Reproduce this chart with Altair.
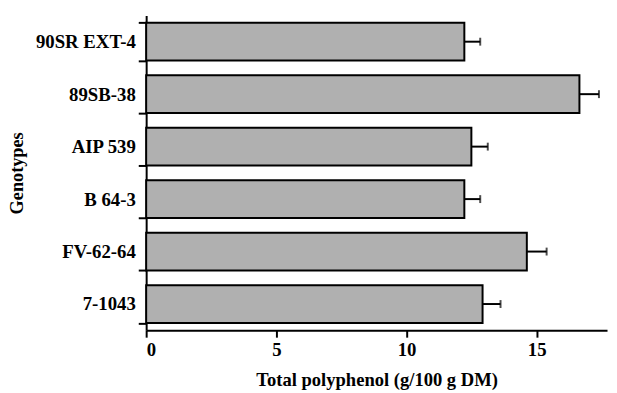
import altair as alt
import pandas as pd

genotypes = ["90SR EXT-4", "89SB-38", "AIP 539", "B 64-3", "FV-62-64", "7-1043"]
means = [12.22, 16.64, 12.49, 12.22, 14.62, 12.92]
errors = [0.61, 0.75, 0.63, 0.61, 0.76, 0.69]
x_ticks = [0, 5, 10, 15]

df = pd.DataFrame({"g": genotypes, "m": means, "e": errors})
df["hi"] = df["m"] + df["e"]

FONT = "Liberation Serif"

y = alt.Y(
    "g:N",
    sort=genotypes,
    title="Genotypes",
    scale=alt.Scale(paddingInner=0.28, paddingOuter=0.14),
    axis=alt.Axis(
        tickBand="extent",
        tickSize=8,
        labelPadding=3,
        labelFontSize=19,
        titleFontSize=18.5,
        titleX=-125,
        titleBaseline="alphabetic",
    ),
)
x = alt.X(
    "m:Q",
    title="Total polyphenol (g/100 g DM)",
    scale=alt.Scale(domain=[0, 17.7], nice=False, zero=True),
    axis=alt.Axis(
        values=x_ticks,
        tickSize=7,
        labelPadding=4,
        labelFontSize=19,
        titleFontSize=18.8,
        titleY=56,
        titleBaseline="alphabetic",
    ),
)

base = alt.Chart(df)
bars = base.mark_bar(fill="#b0b0b0", stroke="black", strokeWidth=2).encode(x=x, y=y)
rule = base.mark_rule(color="black", strokeWidth=2).encode(
    x="m:Q", x2="hi:Q", y=alt.Y("g:N", sort=genotypes)
)
cap = base.mark_tick(color="black", thickness=2, size=8).encode(
    x="hi:Q", y=alt.Y("g:N", sort=genotypes)
)

chart = (
    alt.layer(bars, rule, cap)
    .properties(
        width=467,
        height=319,
        autosize=alt.AutoSizeParams(type="none"),
        padding={"left": 140, "top": 5, "right": 2, "bottom": 60},
    )
    .configure(font=FONT)
    .configure_view(stroke=None)
    .configure_axis(
        grid=False,
        domainColor="black",
        domainWidth=2,
        tickColor="black",
        tickWidth=2,
        labelColor="black",
        titleColor="black",
        labelFont=FONT,
        titleFont=FONT,
        labelFontWeight="bold",
        titleFontWeight="bold",
    )
)

chart.save("out.html", embed_options={"renderer": "svg", "actions": False})
